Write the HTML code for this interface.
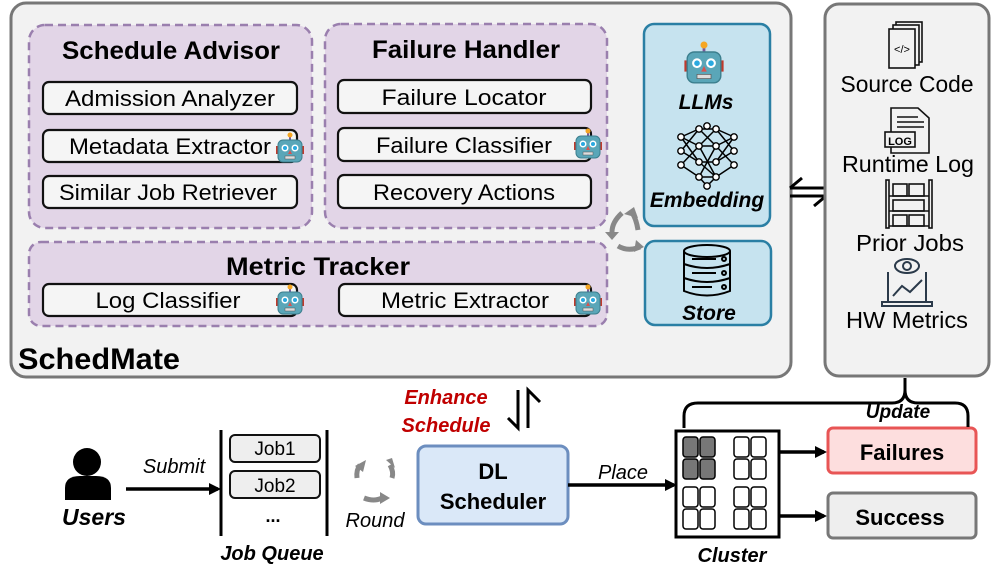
<!DOCTYPE html>
<html><head><meta charset="utf-8"><style>
html,body{margin:0;padding:0;background:#fff}
svg{display:block}
text{font-family:"Liberation Sans",sans-serif}
</style></head><body>
<svg width="997" height="585" viewBox="0 0 997 585" xmlns="http://www.w3.org/2000/svg">
<defs>
<g id="robot">
<line x1="0" y1="-14" x2="0" y2="-10" stroke="#7a5a9a" stroke-width="2"/>
<circle cx="0" cy="-15" r="2.5" fill="#f5a623"/>
<rect x="-14" y="-4" width="3" height="8" fill="#c0392b"/>
<rect x="11" y="-4" width="3" height="8" fill="#c0392b"/>
<rect x="-12" y="-10" width="24" height="22" rx="5" fill="#5aa6b8" stroke="#3c7f8e"/>
<circle cx="-5" cy="-2" r="3.5" fill="#fff"/><circle cx="5" cy="-2" r="3.5" fill="#fff"/>
<circle cx="-5" cy="-2" r="2" fill="#2aa9e0"/><circle cx="5" cy="-2" r="2" fill="#2aa9e0"/>
<polygon points="0,0 -2,4 2,4" fill="#d9534f"/>
<rect x="-5" y="6" width="10" height="3" fill="#ddd" stroke="#555" stroke-width="0.5"/>
</g>
<marker id="ah" markerWidth="12" markerHeight="12" refX="9" refY="6" orient="auto" markerUnits="userSpaceOnUse"><path d="M0,0 L12,6 L0,12 z" fill="#000"/></marker>
</defs>

<rect x="11" y="3" width="780" height="374" rx="15" fill="#f2f2f2" stroke="#777" stroke-width="3"/>
<g fill="#e2d5e7" stroke="#9a7fae" stroke-width="2.5" stroke-dasharray="8,5">
<rect x="29" y="25" width="283" height="203" rx="16"/>
<rect x="325" y="24" width="282" height="204" rx="16"/>
<rect x="29" y="242" width="578" height="84" rx="12"/>
</g>
<g font-weight="bold" font-size="25" text-anchor="middle" fill="#000">
<text x="171" y="59" textLength="218" lengthAdjust="spacingAndGlyphs">Schedule Advisor</text>
<text x="466" y="58" textLength="188" lengthAdjust="spacingAndGlyphs">Failure Handler</text>
<text x="318" y="275" textLength="184" lengthAdjust="spacingAndGlyphs">Metric Tracker</text>
</g>
<g fill="#f5f5f5" stroke="#111" stroke-width="2.2">
<rect x="43" y="82" width="254" height="32" rx="6"/>
<rect x="43" y="130" width="254" height="32" rx="6"/>
<rect x="43" y="176" width="254" height="32" rx="6"/>
<rect x="338" y="80" width="253" height="33" rx="6"/>
<rect x="338" y="128" width="253" height="33" rx="6"/>
<rect x="338" y="175" width="253" height="33" rx="6"/>
<rect x="43" y="284" width="254" height="32" rx="6"/>
<rect x="339" y="284" width="252" height="32" rx="6"/>
</g>
<g font-size="22" text-anchor="middle" fill="#000">
<text x="170" y="106" textLength="210" lengthAdjust="spacingAndGlyphs">Admission Analyzer</text>
<text x="170" y="154" textLength="202" lengthAdjust="spacingAndGlyphs">Metadata Extractor</text>
<text x="168" y="200" textLength="218" lengthAdjust="spacingAndGlyphs">Similar Job Retriever</text>
<text x="464" y="105" textLength="165" lengthAdjust="spacingAndGlyphs">Failure Locator</text>
<text x="464" y="153" textLength="176" lengthAdjust="spacingAndGlyphs">Failure Classifier</text>
<text x="464" y="200" textLength="182" lengthAdjust="spacingAndGlyphs">Recovery Actions</text>
<text x="168" y="308" textLength="145" lengthAdjust="spacingAndGlyphs">Log Classifier</text>
<text x="465" y="308" textLength="168" lengthAdjust="spacingAndGlyphs">Metric Extractor</text>
</g>
<use href="#robot" x="290" y="150"/>
<use href="#robot" x="588" y="146"/>
<use href="#robot" x="290" y="302"/>
<use href="#robot" x="588" y="302"/>

<rect x="644" y="24" width="126" height="202" rx="10" fill="#c6e3ef" stroke="#2a7fa4" stroke-width="2.5"/>
<rect x="645" y="241" width="126" height="84" rx="10" fill="#c6e3ef" stroke="#2a7fa4" stroke-width="2.5"/>
<g transform="translate(704,66) scale(1.4)"><use href="#robot"/></g>
<text x="706" y="109" font-size="21" font-weight="bold" font-style="italic" text-anchor="middle">LLMs</text>
<g stroke="#000" stroke-width="1.5" fill="none">
<path d="M681,137 L699,129 L716,129 L734,137 M681,137 L699,146 L716,146 L734,137 M681,151 L699,162 L716,162 L734,151 M681,137 L699,162 M734,137 L716,162 M699,129 L716,146 M716,129 L699,146 M681,165 L699,177 L716,177 L734,165 M699,146 L716,177 M716,146 L699,177 M699,162 L716,177 M681,151 L699,129 M734,151 L716,129 M699,177 L707,186 L716,177 M681,165 L699,146 M734,165 L716,146"/>
</g>
<g fill="#fff" stroke="#000" stroke-width="1.4">
<circle cx="681" cy="137" r="3.2"/><circle cx="681" cy="151" r="3.2"/><circle cx="681" cy="165" r="3.2"/>
<circle cx="699" cy="129" r="3.2"/><circle cx="699" cy="146" r="3.2"/><circle cx="699" cy="162" r="3.2"/><circle cx="699" cy="177" r="3.2"/>
<circle cx="716" cy="129" r="3.2"/><circle cx="716" cy="146" r="3.2"/><circle cx="716" cy="162" r="3.2"/><circle cx="716" cy="177" r="3.2"/>
<circle cx="734" cy="137" r="3.2"/><circle cx="734" cy="151" r="3.2"/><circle cx="734" cy="165" r="3.2"/>
<circle cx="707" cy="186" r="3.2"/><circle cx="707" cy="126" r="3.2"/>
</g>
<text x="707" y="207" font-size="21" font-weight="bold" font-style="italic" text-anchor="middle">Embedding</text>
<g stroke="#000" stroke-width="2" fill="none">
<ellipse cx="707" cy="251" rx="23" ry="6"/>
<path d="M684,251 V291 Q707,300 730,291 V251 M684,264 Q707,272 730,264 M684,278 Q707,286 730,278"/>
<line x1="692" y1="259" x2="716" y2="259"/><circle cx="724" cy="259" r="2"/>
<line x1="692" y1="273" x2="716" y2="273"/><circle cx="724" cy="273" r="2"/>
<line x1="692" y1="287" x2="712" y2="287"/><circle cx="724" cy="287" r="2"/>
</g>
<text x="709" y="320" font-size="21" font-weight="bold" font-style="italic" text-anchor="middle">Store</text>
<g stroke="#888" stroke-width="5" fill="none">
<path d="M622,213 Q612,222 612,232"/>
<path d="M618,246 Q628,252 640,247"/>
<path d="M638,230 Q636,218 632,213"/>
</g>
<g fill="#888"><polygon points="605,232 619,232 612,240"/><polygon points="636,240 644,247 634,252"/><polygon points="624,214 634,207 638,218"/></g>

<text x="18" y="369" font-size="30" font-weight="bold" textLength="162" lengthAdjust="spacingAndGlyphs">SchedMate</text>

<g stroke="#000" stroke-width="3" fill="none">
<path d="M790,188 H826 M790,188 L802,178"/>
<path d="M790,196 H826 M826,196 L814,206"/>
</g>

<rect x="825" y="4" width="164" height="372" rx="14" fill="#f2f2f2" stroke="#777" stroke-width="3"/>
<g stroke="#111" stroke-width="1.6" fill="#f2f2f2">
<rect x="896" y="22" width="26" height="40"/><rect x="893" y="25" width="26" height="40"/><rect x="889" y="29" width="26" height="39"/>
</g>
<text x="902" y="53" font-size="11" text-anchor="middle">&lt;/&gt;</text>
<text x="907" y="92" font-size="23" text-anchor="middle" textLength="133" lengthAdjust="spacingAndGlyphs">Source Code</text>
<g stroke="#111" stroke-width="1.6" fill="#f2f2f2">
<path d="M891,108 H918 L929,118 V153 H891 Z"/>
<line x1="897" y1="117" x2="918" y2="117"/><line x1="897" y1="122" x2="924" y2="122"/><line x1="897" y1="127" x2="924" y2="127"/>
<rect x="885" y="132" width="30" height="15" fill="#f2f2f2"/>
</g>
<text x="900" y="145" font-size="11" text-anchor="middle" font-weight="bold">LOG</text>
<text x="908" y="172" font-size="23" text-anchor="middle" textLength="132" lengthAdjust="spacingAndGlyphs">Runtime Log</text>
<g stroke="#111" stroke-width="1.6" fill="none">
<rect x="886" y="180" width="3" height="48"/><rect x="929" y="180" width="3" height="48"/>
<line x1="889" y1="196" x2="929" y2="196"/><line x1="889" y1="211" x2="929" y2="211"/><line x1="889" y1="226" x2="929" y2="226"/>
<rect x="893" y="184" width="14" height="12"/><rect x="909" y="184" width="15" height="12"/>
<rect x="893" y="200" width="31" height="11"/><rect x="893" y="215" width="14" height="11"/><rect x="909" y="215" width="15" height="11"/>
</g>
<text x="910" y="251" font-size="23" text-anchor="middle" textLength="108" lengthAdjust="spacingAndGlyphs">Prior Jobs</text>
<g stroke="#2b3a4a" stroke-width="2" fill="none">
<ellipse cx="907" cy="266" rx="12" ry="7"/><circle cx="907" cy="266" r="4"/>
<path d="M888,272 V302 H926 V272"/><rect x="882" y="302" width="50" height="4"/>
<path d="M893,296 L902,286 L910,292 L922,280"/>
</g>
<text x="907" y="328" font-size="23" text-anchor="middle" textLength="122" lengthAdjust="spacingAndGlyphs">HW Metrics</text>

<g fill="#c00000" font-size="20" font-weight="bold" font-style="italic" text-anchor="middle">
<text x="446" y="404">Enhance</text><text x="446" y="432">Schedule</text>
</g>
<g stroke="#000" stroke-width="3" fill="none">
<path d="M518,390 V428 L508,418"/>
<path d="M528,428 V390 L540,402"/>
</g>

<circle cx="87" cy="462" r="14" fill="#000"/>
<path d="M65,500 V488 Q65,476 80,476 H96 Q111,476 111,488 V500 Z" fill="#000"/>
<text x="94" y="525" font-size="23" font-weight="bold" font-style="italic" text-anchor="middle">Users</text>
<text x="174" y="473" font-size="20" font-style="italic" text-anchor="middle">Submit</text>
<line x1="126" y1="489" x2="218" y2="489" stroke="#000" stroke-width="3.5" marker-end="url(#ah)"/>
<line x1="221" y1="430" x2="221" y2="536" stroke="#000" stroke-width="3"/>
<line x1="327" y1="430" x2="327" y2="536" stroke="#000" stroke-width="3"/>
<rect x="230" y="435" width="90" height="27" rx="5" fill="#eee" stroke="#111" stroke-width="2"/>
<rect x="230" y="471" width="90" height="27" rx="5" fill="#eee" stroke="#111" stroke-width="2"/>
<text x="275" y="455" font-size="19" text-anchor="middle">Job1</text>
<text x="275" y="492" font-size="19" text-anchor="middle">Job2</text>
<text x="273" y="522" font-size="18" font-weight="bold" text-anchor="middle">...</text>
<text x="272" y="560" font-size="20" font-weight="bold" font-style="italic" text-anchor="middle">Job Queue</text>
<g stroke="#888" stroke-width="5" fill="none">
<path d="M357,478 Q356,470 360,465"/><path d="M390,465 Q394,472 392,478"/><path d="M364,498 Q374,502 382,498"/>
</g>
<g fill="#888"><polygon points="355,466 366,460 363,472"/><polygon points="386,460 395,468 392,458"/><polygon points="380,492 390,498 380,504"/></g>
<text x="375" y="527" font-size="20" font-style="italic" text-anchor="middle">Round</text>
<rect x="418" y="446" width="150" height="78" rx="8" fill="#dae8f8" stroke="#6c8ebf" stroke-width="3"/>
<text x="493" y="479" font-size="22" font-weight="bold" text-anchor="middle">DL</text>
<text x="493" y="509" font-size="22" font-weight="bold" text-anchor="middle">Scheduler</text>
<text x="623" y="479" font-size="20" font-style="italic" text-anchor="middle">Place</text>
<line x1="568" y1="485" x2="674" y2="485" stroke="#000" stroke-width="3.5" marker-end="url(#ah)"/>
<rect x="676" y="431" width="103" height="106" fill="#fff" stroke="#000" stroke-width="3"/>
<g stroke="#000" stroke-width="1.5">
<g fill="#777"><rect x="683" y="437" width="15" height="20" rx="3"/><rect x="700" y="437" width="15" height="20" rx="3"/><rect x="683" y="459" width="15" height="20" rx="3"/><rect x="700" y="459" width="15" height="20" rx="3"/></g>
<g fill="#fff">
<rect x="734" y="437" width="15" height="20" rx="3"/><rect x="751" y="437" width="15" height="20" rx="3"/><rect x="734" y="459" width="15" height="20" rx="3"/><rect x="751" y="459" width="15" height="20" rx="3"/>
<rect x="683" y="487" width="15" height="20" rx="3"/><rect x="700" y="487" width="15" height="20" rx="3"/><rect x="683" y="509" width="15" height="20" rx="3"/><rect x="700" y="509" width="15" height="20" rx="3"/>
<rect x="734" y="487" width="15" height="20" rx="3"/><rect x="751" y="487" width="15" height="20" rx="3"/><rect x="734" y="509" width="15" height="20" rx="3"/><rect x="751" y="509" width="15" height="20" rx="3"/>
</g></g>
<text x="732" y="562" font-size="20" font-weight="bold" font-style="italic" text-anchor="middle">Cluster</text>
<line x1="780" y1="452" x2="824" y2="452" stroke="#000" stroke-width="3.5" marker-end="url(#ah)"/>
<line x1="780" y1="516" x2="824" y2="516" stroke="#000" stroke-width="3.5" marker-end="url(#ah)"/>
<rect x="828" y="428" width="148" height="45" rx="5" fill="#fddede" stroke="#e85555" stroke-width="3"/>
<rect x="828" y="493" width="148" height="45" rx="5" fill="#eee" stroke="#777" stroke-width="3"/>
<text x="902" y="460" font-size="22" font-weight="bold" text-anchor="middle">Failures</text>
<text x="900" y="525" font-size="22" font-weight="bold" text-anchor="middle">Success</text>
<path d="M684,428 V416 Q684,403 698,403 H892 Q905,403 905,390 V378 M905,390 Q905,403 918,403 H955 Q968,403 968,416 V427" stroke="#000" stroke-width="3" fill="none"/>
<text x="898" y="418" font-size="19" font-weight="bold" font-style="italic" text-anchor="middle">Update</text>
</svg>
</body></html>
